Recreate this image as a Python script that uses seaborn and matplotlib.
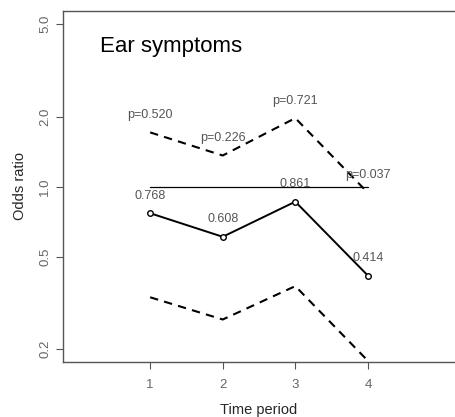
import pandas as pd
import numpy as np
import seaborn as sns
import matplotlib.pyplot as plt

# odds ratios with confidence limits per time period
period = [1, 2, 3, 4]
odds = [0.768, 0.608, 0.861, 0.414]
upper = [1.71, 1.36, 1.97, 0.94]
lower = [0.334, 0.268, 0.373, 0.178]
pvals = ["p=0.520", "p=0.226", "p=0.721", "p=0.037"]
yticks = [0.2, 0.5, 1.0, 2.0, 5.0]

df = pd.DataFrame({"period": period, "odds": odds, "upper": upper, "lower": lower})

sns.set_style("ticks")
plt.rcParams['font.family'] = ['Liberation Sans', 'DejaVu Sans']

fig = plt.figure(figsize=(4.55, 4.17), dpi=100)
ax = fig.add_axes([0.1385, 0.132, 0.8615, 0.842])

# reference line at 1
ax.plot([period[0], period[-1]], [1, 1], color="black", lw=0.9)

sns.lineplot(data=df, x="period", y="upper", ax=ax, color="black", lw=1.5, linestyle=(0, (4, 3)))
sns.lineplot(data=df, x="period", y="lower", ax=ax, color="black", lw=1.5, linestyle=(0, (4, 3)))
sns.lineplot(data=df, x="period", y="odds", ax=ax, color="black", lw=1.4,
             marker="o", markersize=4, markerfacecolor="white", markeredgecolor="black", markeredgewidth=1)

for x, u, p in zip(period, upper, pvals):
    ax.text(x, u * 1.19, p, ha="center", va="center", fontsize=9, color="#555555")
for x, o in zip(period, odds):
    ax.text(x, o * 1.19, "%.3f" % o, ha="center", va="center", fontsize=9, color="#555555")

ax.set_yscale("log")
ax.set_ylim(0.176, 5.7)
ax.set_xlim(-0.2, 5.2)
ax.set_yticks(yticks)
ax.set_yticklabels(["%.1f" % t for t in yticks], rotation=90, va="center")
ax.minorticks_off()
ax.set_xticks(period)
ax.tick_params(colors="#555555", labelsize=9.5, length=5, width=0.8, labelcolor="#666666")
ax.tick_params(axis="x", pad=7)

for s in ["left", "bottom", "top"]:
    ax.spines[s].set_color("#555555")
    ax.spines[s].set_linewidth(1)
ax.spines["right"].set_visible(False)

ax.set_xlabel("Time period", fontsize=10.5, labelpad=9)
ax.set_ylabel("Odds ratio", fontsize=10.5, labelpad=9)
ax.text(0.31, 4.0, "Ear symptoms", fontsize=16, ha="left", va="center", color="black")

fig.savefig("out.png", dpi=100)
